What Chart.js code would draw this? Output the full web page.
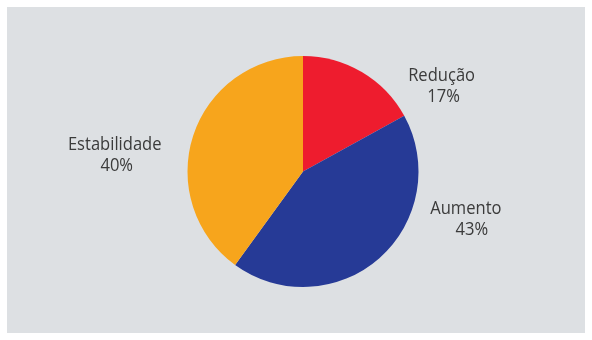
<!DOCTYPE html>
<html>
<head>
<meta charset="utf-8">
<script src="https://cdn.jsdelivr.net/npm/chart.js@4.4.0/dist/chart.umd.min.js"></script>
<style>
  body { margin: 0; background: #ffffff; }
  #panel { position: absolute; left: 7px; top: 7px; width: 578px; height: 326px; background: #dde0e3; }
  #wrap { position: absolute; left: 0; top: 0; width: 592px; height: 340px; }
</style>
</head>
<body>
<div id="panel"></div>
<div id="wrap"><canvas id="pie"></canvas></div>
<script>
var categories = ['Redução', 'Aumento', 'Estabilidade'];
var values = [17, 43, 40];
var colors = ['#ee1c2e', '#263a96', '#f7a51c'];

// label block centre, relative to pie centre, in units of radius
var labelPos = [[1.20, -0.74], [1.41, 0.41], [-1.63, -0.14]];

const pieLabels = {
  id: 'pieLabels',
  afterDatasetsDraw(chart) {
    const ctx = chart.ctx;
    const meta = chart.getDatasetMeta(0);
    const sx = 0.92; // narrower face like the original
    ctx.save();
    ctx.font = '18px "Open Sans"';
    ctx.fillStyle = '#3b3b3b';
    ctx.textAlign = 'center';
    ctx.textBaseline = 'middle';
    ctx.scale(sx, 1);
    meta.data.forEach(function (arc, i) {
      const r = arc.outerRadius;
      const x = arc.x + labelPos[i][0] * r;
      const y = arc.y + labelPos[i][1] * r;
      ctx.fillText(categories[i], x / sx, y - 10);
      ctx.fillText(values[i] + '%', (x + (i == 1 ? 6 : 2)) / sx, y + 11);
    });
    ctx.restore();
  }
};

const ctx_pie = document.getElementById('pie').getContext('2d');
const myChart_pie = new Chart(ctx_pie, {
  type: 'pie',
  data: {
    labels: categories,
    datasets: [{
      data: values,
      backgroundColor: colors,
      borderWidth: 0
    }]
  },
  options: {
    responsive: true,
    maintainAspectRatio: false,
    animation: false,
    layout: { padding: { left: 187.5, right: 173.5, top: 56, bottom: 53 } },
    plugins: {
      legend: { display: false },
      tooltip: { enabled: false }
    }
  },
  plugins: [pieLabels]
});
</script>
</body>
</html>
